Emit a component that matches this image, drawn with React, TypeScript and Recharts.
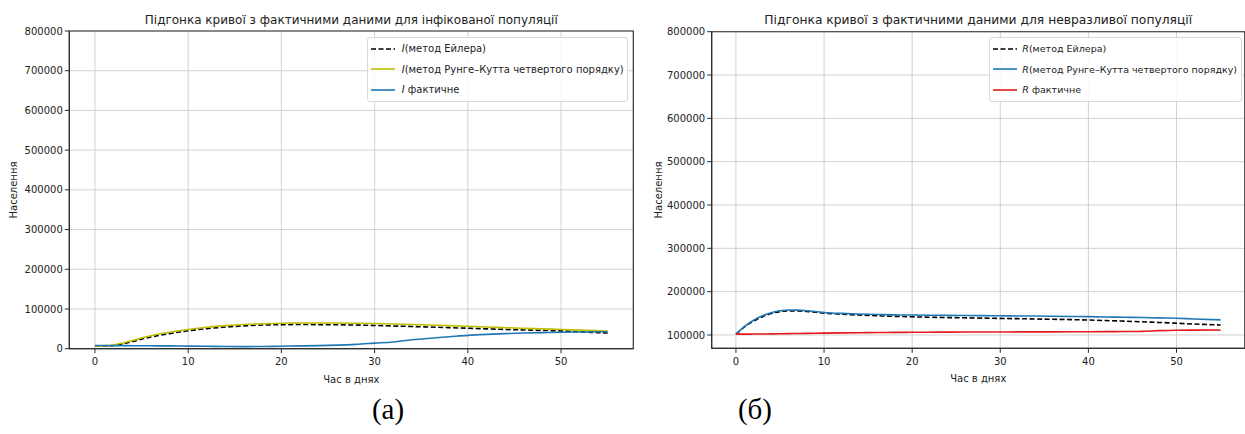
import React from 'react';
import { LineChart, Line, XAxis, YAxis, CartesianGrid, ReferenceArea, Legend } from 'recharts';

// ---------- data ----------
const days = [0, 1, 2, 3, 4, 5, 6, 7, 8, 10, 12, 14, 16, 18, 20, 22, 24, 26, 28, 30, 32, 34, 36, 38, 40, 42, 44, 46, 48, 50, 52, 55];

// infected population (panel a)
const iEuler = [7000, 7200, 8200, 12500, 18000, 24000, 29500, 34000, 38000, 45000, 50500, 54500, 57500, 59500, 60500, 60800, 60700, 60300, 59500, 58500, 57300, 56000, 54500, 53000, 51500, 50000, 48500, 47200, 46000, 44800, 42500, 39500];
const iRK4 = [7000, 7600, 9500, 14500, 20500, 27000, 32500, 37500, 41500, 48500, 54000, 58000, 61000, 63000, 64200, 64700, 64800, 64600, 64100, 63400, 62300, 61100, 59700, 58200, 56500, 54700, 52900, 51300, 49800, 48400, 46800, 44500];
const iActual = [8000, 7900, 7800, 7700, 7600, 7500, 7300, 7100, 7000, 6500, 6000, 5500, 5200, 5500, 6300, 7000, 7800, 9000, 11000, 14000, 17000, 22500, 26500, 30000, 33500, 36000, 38000, 39500, 40500, 41500, 42000, 42500];

// recovered population (panel b)
const rEuler = [102000, 119000, 132000, 142000, 149500, 154000, 155500, 155500, 154500, 150500, 148000, 146000, 144500, 143000, 142000, 141000, 140300, 139700, 139000, 138300, 137700, 137000, 136300, 135500, 134600, 133300, 132000, 130500, 129000, 127200, 125300, 123000];
const rRK4 = [102000, 120000, 134000, 144500, 151500, 156000, 157700, 157500, 156000, 152000, 149800, 148300, 147300, 146500, 146000, 145600, 145300, 145000, 144700, 144400, 144000, 143700, 143300, 142800, 142300, 141700, 141000, 140300, 139500, 138600, 137000, 134800];
const rActual = [102000, 102000, 102200, 102400, 102600, 102900, 103200, 103500, 103800, 104300, 104800, 105300, 105700, 106000, 106300, 106500, 106700, 106800, 106900, 107000, 107100, 107200, 107300, 107400, 107600, 107800, 108000, 108300, 110000, 111000, 111300, 111500];

const xTicks = [0, 10, 20, 30, 40, 50];
const iYTicks = [0, 100000, 200000, 300000, 400000, 500000, 600000, 700000, 800000];
const rYTicks = [100000, 200000, 300000, 400000, 500000, 600000, 700000, 800000];

const titleI = 'Підгонка кривої з фактичними даними для інфікованої популяції';
const titleR = 'Підгонка кривої з фактичними даними для невразливої популяції';
const xLabel = 'Час в днях';
const yLabel = 'Населення';
const captionA = '(а)';
const captionB = '(б)';

const legendI = [
  { sym: 'I', text: '(метод Ейлера)' },
  { sym: 'I', text: '(метод Рунге–Кутта четвертого порядку)' },
  { sym: 'I', text: ' фактичне' },
];
const legendR = [
  { sym: 'R', text: '(метод Ейлера)' },
  { sym: 'R', text: '(метод Рунге–Кутта четвертого порядку)' },
  { sym: 'R', text: ' фактичне' },
];

const iData = days.map((d, k) => ({ day: d, euler: iEuler[k], rk4: iRK4[k], actual: iActual[k] }));
const rData = days.map((d, k) => ({ day: d, euler: rEuler[k], rk4: rRK4[k], actual: rActual[k] }));

// ---------- styling ----------
const FONT = '"DejaVu Sans", sans-serif';
const AX = '#2b2b2b';
const TXT = '#222222';
const GRID = '#cccccc';

type SeriesStyle = { key: string; color: string; dashed?: boolean };

const iSeries: SeriesStyle[] = [
  { key: 'euler', color: '#000000', dashed: true },
  { key: 'rk4', color: '#bfbf00' },
  { key: 'actual', color: '#1f77b4' },
];
const rSeries: SeriesStyle[] = [
  { key: 'euler', color: '#000000', dashed: true },
  { key: 'rk4', color: '#1f77b4' },
  { key: 'actual', color: '#e3191c' },
];

function LegendBox({ items, series, width, fontSize, gap }: { items: { sym: string; text: string }[]; series: SeriesStyle[]; width: number; fontSize: number; gap: number }) {
  return (
    <div
      style={{
        width,
        boxSizing: 'border-box',
        border: '1px solid #d9d9d9',
        borderRadius: 3,
        background: 'rgba(255,255,255,0.85)',
        padding: '1px 3px',
        fontFamily: FONT,
        fontSize,
        color: TXT,
      }}
    >
      {items.map((it, k) => (
        <div key={k} style={{ display: 'flex', alignItems: 'center', height: 20.5, whiteSpace: 'nowrap' }}>
          <svg width={24} height={6} style={{ marginRight: gap, flex: 'none' }}>
            <line x1={0} y1={3} x2={24} y2={3} stroke={series[k].color} strokeWidth={1.6} strokeDasharray={series[k].dashed ? '5 2.5' : undefined} />
          </svg>
          <span>
            <i>{it.sym}</i>
            {it.text}
          </span>
        </div>
      ))}
    </div>
  );
}

type PanelProps = {
  left: number;
  width: number;
  plotL: number;
  plotR: number;
  plotT: number;
  plotB: number;
  yDomain: [number, number];
  yTicks: number[];
  data: any[];
  series: SeriesStyle[];
  title: string;
  titleSize: number;
  legendItems: { sym: string; text: string }[];
  legendLeft: number;
  legendWidth: number;
  legendFont: number;
  legendGap: number;
  yLabelX: number;
};

function Panel(p: PanelProps) {
  const H = 434;
  const xAxisH = 40;
  const margin = { top: p.plotT, right: p.width - p.plotR, left: 0, bottom: H - p.plotB - xAxisH };
  const tickStyle = { fill: TXT, fontSize: 10, fontFamily: FONT };
  return (
    <div style={{ position: 'absolute', left: p.left, top: 0, width: p.width, height: H }}>
      <LineChart width={p.width} height={H} data={p.data} margin={margin}>
        <CartesianGrid stroke={GRID} strokeWidth={0.9} />
        <XAxis
          dataKey="day"
          type="number"
          domain={[-2.75, 57.75]}
          ticks={xTicks}
          height={xAxisH}
          tickSize={4.5}
          tickMargin={5}
          stroke={AX}
          tick={tickStyle}
          label={{ value: xLabel, position: 'insideBottom', offset: 6, style: { fill: TXT, fontSize: 10, fontFamily: FONT } }}
        />
        <YAxis
          type="number"
          domain={p.yDomain}
          ticks={p.yTicks}
          width={p.plotL}
          tickSize={4.5}
          tickMargin={2}
          stroke={AX}
          tick={tickStyle}
          allowDataOverflow
        />
        <ReferenceArea x1={-2.75} x2={57.75} y1={p.yDomain[0]} y2={p.yDomain[1]} fill="none" stroke={AX} strokeWidth={1.1} />
        {p.series.map((s) => (
          <Line
            key={s.key}
            type="monotone"
            dataKey={s.key}
            stroke={s.color}
            strokeWidth={1.6}
            strokeDasharray={s.dashed ? '5 2.5' : undefined}
            dot={false}
            activeDot={false}
            isAnimationActive={false}
          />
        ))}
        <Legend
          layout="vertical"
          align="center"
          verticalAlign="middle"
          wrapperStyle={{ position: 'absolute', left: p.legendLeft, top: 36.5, width: p.legendWidth, right: 'auto', bottom: 'auto' }}
          content={() => <LegendBox items={p.legendItems} series={p.series} width={p.legendWidth} fontSize={p.legendFont} gap={p.legendGap} />}
        />
      </LineChart>
      <div
        style={{
          position: 'absolute',
          left: p.plotL,
          width: p.plotR - p.plotL,
          top: 13,
          textAlign: 'center',
          fontFamily: FONT,
          fontSize: p.titleSize,
          lineHeight: '14px',
          color: TXT,
          whiteSpace: 'nowrap',
        }}
      >
        {p.title}
      </div>
      <div
        style={{
          position: 'absolute',
          left: p.yLabelX,
          top: (p.plotT + p.plotB) / 2,
          transform: 'translate(-50%, -50%) rotate(-90deg)',
          fontFamily: FONT,
          fontSize: 10,
          lineHeight: '12px',
          color: TXT,
          whiteSpace: 'nowrap',
        }}
      >
        {yLabel}
      </div>
    </div>
  );
}

const captionStyle: React.CSSProperties = {
  position: 'absolute',
  top: 392,
  transform: 'translateX(-50%)',
  fontFamily: '"Liberation Serif", "Times New Roman", serif',
  fontSize: 29,
  lineHeight: '34px',
  color: '#000',
  whiteSpace: 'nowrap',
};

export default function App() {
  return (
    <div style={{ position: 'absolute', left: 0, top: 0, width: 1245, height: 434, background: '#fff', overflow: 'hidden' }}>
      <Panel
        left={0}
        width={640}
        plotL={69.3}
        plotR={633.3}
        plotT={31}
        plotB={348.7}
        yDomain={[0, 800000]}
        yTicks={iYTicks}
        data={iData}
        series={iSeries}
        title={titleI}
        titleSize={12}
        legendItems={legendI}
        legendLeft={366.7}
        legendWidth={261.6}
        legendFont={10}
        legendGap={7}
        yLabelX={14}
      />
      <Panel
        left={640}
        width={605}
        plotL={71.7}
        plotR={604.8}
        plotT={31.7}
        plotB={348.3}
        yDomain={[69300, 800000]}
        yTicks={rYTicks}
        data={rData}
        series={rSeries}
        title={titleR}
        titleSize={12.3}
        legendItems={legendR}
        legendLeft={349.3}
        legendWidth={253}
        legendFont={9.5}
        legendGap={5}
        yLabelX={19}
      />
      <div style={{ ...captionStyle, left: 388 }}>{captionA}</div>
      <div style={{ ...captionStyle, left: 755 }}>{captionB}</div>
    </div>
  );
}
